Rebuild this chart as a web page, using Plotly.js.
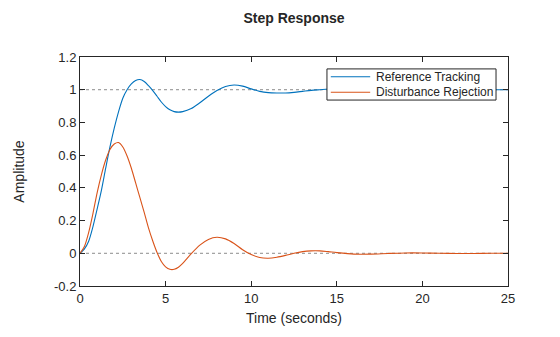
<!DOCTYPE html>
<html>
<head>
<meta charset="utf-8">
<script src="https://cdn.plot.ly/plotly-3.0.1.min.js"></script>
<style>html,body{margin:0;padding:0;background:#fff;}#chart{width:560px;height:337px;}</style>
</head>
<body>
<div id="chart"></div>
<script>
const timeS = [0,0.25,0.5,0.75,1.0,1.25,1.5,1.75,2.0,2.25,2.5,2.75,3.0,3.25,3.5,3.75,4.0,4.25,4.5,4.75,5.0,5.25,5.5,5.75,6.0,6.5,7.0,7.5,8.0,8.5,9.0,9.5,10.0,10.5,11.0,11.5,12.0,12.5,13.0,13.5,14.0,14.5,15,16,17,18,19,20,21,22,23,24,25];
const referenceTracking = [0,0.025,0.072,0.16,0.27,0.385,0.52,0.65,0.765,0.865,0.948,1.0,1.035,1.056,1.062,1.05,1.025,0.995,0.96,0.925,0.897,0.877,0.866,0.863,0.866,0.885,0.92,0.96,0.995,1.02,1.029,1.022,1.005,0.99,0.982,0.98,0.98,0.984,0.99,0.996,1.0,1.004,1.006,1.005,1.001,0.998,0.997,0.998,1.0,1.001,1.001,1.0,1.0];
const disturbanceRejection = [0,0.04,0.125,0.24,0.37,0.48,0.57,0.635,0.668,0.677,0.65,0.595,0.52,0.43,0.34,0.25,0.155,0.075,0.005,-0.05,-0.083,-0.098,-0.098,-0.085,-0.062,-0.002,0.05,0.085,0.098,0.088,0.06,0.022,-0.008,-0.026,-0.03,-0.024,-0.013,0.0,0.01,0.015,0.015,0.01,0.004,-0.005,-0.005,-0.001,0.002,0.002,0.0,-0.001,-0.001,0.0,0.0];
const seriesNames = ["Reference Tracking","Disturbance Rejection"];
const seriesColors = ["#0072BD","#D95319"];
const refLevels = [0, 1];
const xTicks = [0,5,10,15,20,25];
const yTicks = [-0.2,0,0.2,0.4,0.6,0.8,1,1.2];
const yTickText = ["-0.2","0","0.2","0.4","0.6","0.8","1","1.2"];

const font = "Liberation Sans, Arial, Helvetica, sans-serif";
const series = [referenceTracking, disturbanceRejection];
const traces = series.map((ys, i) => ({x: timeS, y: ys, name: seriesNames[i], mode: "lines",
   line: {color: seriesColors[i], width: 1.1, shape: "spline", smoothing: 0.8}}));

const shapes = refLevels.map(v => ({type: "line", xref: "paper", yref: "y", x0: 0, x1: 1, y0: v, y1: v,
  line: {color: "#8c8c8c", width: 1, dash: "dot"}, layer: "below"}));

// custom legend (box, line samples, labels) in paper coordinates
const legBox = {x0: 0.577, x1: 0.972, y0: 0.812, y1: 0.948};
const legRowY = [0.914, 0.846];
shapes.push({type: "rect", xref: "paper", yref: "paper", x0: legBox.x0, x1: legBox.x1, y0: legBox.y0, y1: legBox.y1,
  fillcolor: "#fff", line: {color: "#262626", width: 1}, layer: "above"});
const annotations = [];
seriesNames.forEach((n, i) => {
  shapes.push({type: "line", xref: "paper", yref: "paper", x0: 0.586, x1: 0.678, y0: legRowY[i], y1: legRowY[i],
    line: {color: seriesColors[i], width: 1.1}, layer: "above"});
  annotations.push({xref: "paper", yref: "paper", x: 0.686, y: legRowY[i], xanchor: "left", yanchor: "middle",
    text: n, showarrow: false, font: {family: font, size: 12, color: "#262626"}});
});

const axisCommon = {showgrid: false, zeroline: false, showline: true, linecolor: "#262626", linewidth: 1,
  mirror: "ticks", ticks: "inside", ticklen: 5, tickcolor: "#262626",
  tickfont: {family: font, size: 13, color: "#262626"}};

const layout = {
  width: 560, height: 337,
  margin: {l: 80, r: 52, t: 57, b: 51},
  paper_bgcolor: "#fff", plot_bgcolor: "#fff",
  title: {text: "<b>Step Response</b>", font: {family: font, size: 14, color: "#262626"},
    x: 0.525, xanchor: "center", y: 0.945, yanchor: "middle"},
  xaxis: Object.assign({}, axisCommon, {range: [0, 25], tickvals: xTicks, ticktext: xTicks.map(String),
    title: {text: "Time (seconds)", font: {family: font, size: 14, color: "#262626"}, standoff: 8}}),
  yaxis: Object.assign({}, axisCommon, {range: [-0.2, 1.2], tickvals: yTicks, ticktext: yTickText,
    title: {text: "Amplitude", font: {family: font, size: 14, color: "#262626"}, standoff: 26}}),
  shapes: shapes,
  annotations: annotations,
  showlegend: false
};
Plotly.newPlot("chart", traces, layout, {displayModeBar: false, staticPlot: true});
</script>
</body>
</html>
